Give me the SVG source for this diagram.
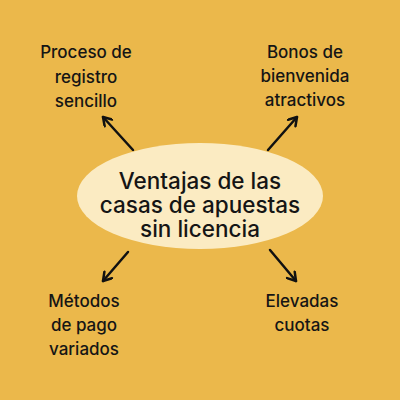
<svg xmlns="http://www.w3.org/2000/svg" width="400" height="400" viewBox="0 0 400 400">
<defs>
<style>
.lbl{font-family:Inter,"Open Sans","Liberation Sans",sans-serif;font-size:17px;fill:#151515;text-anchor:middle;font-weight:500}
.ctr{font-family:Inter,"Open Sans","Liberation Sans",sans-serif;font-size:22.5px;fill:#151515;text-anchor:middle;font-weight:500}
.con{stroke:#111;stroke-width:2.5;fill:none;stroke-linecap:round}
</style>
<marker id="a" viewBox="0 0 12 12" refX="10" refY="6" markerWidth="12" markerHeight="12" orient="auto" markerUnits="userSpaceOnUse">
<path d="M2,1 L10,6 L2,11" fill="none" stroke="#111" stroke-width="2.5" stroke-linecap="round" stroke-linejoin="round"/>
</marker>
</defs>
<rect width="400" height="400" fill="#EBB84B"/>
<g id="connectors">
<line class="con" x1="133" y1="150" x2="103" y2="117" marker-end="url(#a)"/>
<line class="con" x1="268" y1="150" x2="297" y2="117" marker-end="url(#a)"/>
<line class="con" x1="128" y1="252" x2="103" y2="281" marker-end="url(#a)"/>
<line class="con" x1="270" y1="250" x2="296" y2="281" marker-end="url(#a)"/>
</g>
<g id="center">
<ellipse cx="200" cy="196" rx="123" ry="53" fill="#FBEBC2"/>
<text class="ctr" x="200" y="189">Ventajas de las</text>
<text class="ctr" x="200" y="213">casas de apuestas</text>
<text class="ctr" x="200" y="237">sin licencia</text>
</g>
<g id="n1">
<text class="lbl" x="86" y="58">Proceso de</text>
<text class="lbl" x="86" y="83">registro</text>
<text class="lbl" x="86" y="107">sencillo</text>
</g>
<g id="n2">
<text class="lbl" x="305" y="58">Bonos de</text>
<text class="lbl" x="305" y="82">bienvenida</text>
<text class="lbl" x="305" y="106">atractivos</text>
</g>
<g id="n3">
<text class="lbl" x="84" y="307">Métodos</text>
<text class="lbl" x="84" y="331">de pago</text>
<text class="lbl" x="84" y="355">variados</text>
</g>
<g id="n4">
<text class="lbl" x="302" y="307">Elevadas</text>
<text class="lbl" x="302" y="331">cuotas</text>
</g>
</svg>
